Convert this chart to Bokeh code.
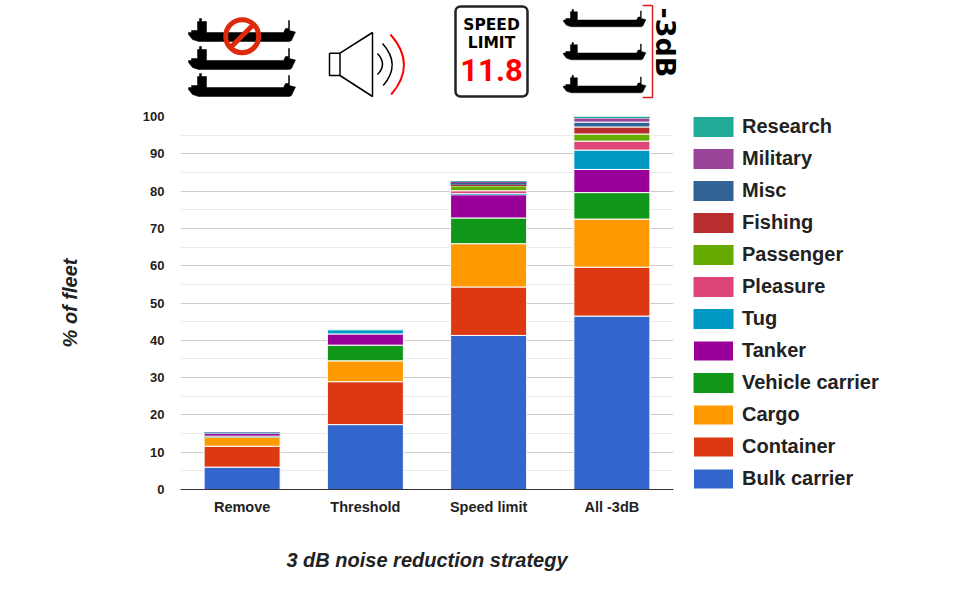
from bokeh.plotting import figure
from bokeh.layouts import column
from bokeh.models import (ColumnDataSource, FactorRange, Range1d, Legend, LegendItem,
                          SingleIntervalTicker, Label)
from bokeh.embed import file_html
from bokeh.resources import INLINE

strategies = ["Remove", "Threshold", "Speed limit", "All -3dB"]
bulk_carrier = [6.0, 17.4, 41.3, 46.5]
container = [5.6, 11.5, 13.0, 13.1]
cargo = [2.4, 5.6, 11.6, 12.9]
vehicle_carrier = [0.3, 4.2, 6.9, 7.1]
tanker = [0.7, 3.0, 6.2, 6.2]
tug = [0.05, 1.1, 0.3, 5.2]
pleasure = [0.0, 0.0, 0.8, 2.4]
passenger = [0.0, 0.0, 1.3, 1.9]
fishing = [0.05, 0.0, 0.3, 1.9]
misc = [0.2, 0.0, 0.5, 1.3]
military = [0.05, 0.0, 0.3, 1.1]
research = [0.05, 0.0, 0.2, 0.4]

series = ["Bulk carrier", "Container", "Cargo", "Vehicle carrier", "Tanker", "Tug",
          "Pleasure", "Passenger", "Fishing", "Misc", "Military", "Research"]
colors = ["#3366cc", "#dc3912", "#ff9900", "#109618", "#990099", "#0099c6",
          "#dd4477", "#66aa00", "#b82e2e", "#316395", "#994499", "#22aa99"]
FONT = "Liberation Sans"

data = dict(strategy=strategies)
for name, vals in zip(series, [bulk_carrier, container, cargo, vehicle_carrier, tanker, tug,
                               pleasure, passenger, fishing, misc, military, research]):
    data[name] = vals
    # thin slivers get no white separator, otherwise the stroke hides their colour
    data["sep_" + name] = [1.0 if v >= 0.6 else 0.0 for v in vals]

# ---------- icon strip above the chart (page pixels) ----------
ICON_H = 110
top = figure(width=946, height=ICON_H, x_range=Range1d(0, 946), y_range=Range1d(ICON_H, 0),
             output_backend="svg", toolbar_location=None, min_border=0,
             outline_line_color=None, frame_align=False)
top.axis.visible = False
top.grid.visible = False

ship_x = [0, 3, 3, 9, 9, 11, 11, 13, 13, 18, 18, 95, 97, 100, 100, 101, 101, 107, 103, 101, 10, 4, 0]
ship_y = [14, 14, 12, 12, 3, 3, 0, 0, 3, 3, 14, 14, 10, 10, 2, 2, 12, 13.5, 22, 23, 23, 21, 16]


def ship(x0, y0, sx=1.0, sy=1.0):
    top.patch([x0 + a * sx for a in ship_x], [y0 + b * sy for b in ship_y],
              fill_color="#000000", line_color="#000000", line_width=0.5)


for y0 in (18, 46, 73):
    ship(188, y0)
for y0 in (9, 42, 75):
    ship(563, y0, 0.77, 0.75)

# no-entry sign
top.circle(x=[241.7], y=[35.7], radius=16.5, fill_color=None, line_color="#dc2a0a", line_width=5)
top.line([231, 252], [46, 25], line_color="#dc2a0a", line_width=5)

# loudspeaker
top.line([329, 339.5, 339.5, 329, 329], [52.7, 52.7, 75, 75, 52.7], line_color="#000000", line_width=1.5)
top.line([339.5, 372, 372, 339.5], [52.7, 32, 96, 75], line_color="#000000", line_width=1.5)
top.quadratic(x0=[377, 382], y0=[53, 43], x1=[377, 382.7], y1=[74, 85], cx=[387, 401], cy=[64, 64],
              line_color="#000000", line_width=1.5)
top.quadratic(x0=[390], y0=[34], x1=[390.7], y1=[94], cx=[416.6], cy=[64],
              line_color="#ff0000", line_width=2)

# speed sign
top.quad(left=[455], right=[527], top=[6], bottom=[96], fill_color="#ffffff",
         line_color="#222222", line_width=2.5, border_radius=5)
for txt, yy, size, col, fam in [
    ("SPEED", 24, "15.5px", "#000000", "DejaVu Sans"),
    ("LIMIT", 42, "15.5px", "#000000", "DejaVu Sans"),
    ("11.8", 69, "31px", "#ff0000", "Roboto"),
]:
    top.add_layout(Label(x=491, y=yy, text=txt, text_align="center", text_baseline="middle",
                         text_font=fam, text_font_size=size, text_color=col, text_font_style="bold"))

# -3dB bracket
top.line([642, 652, 652, 642], [5, 5, 97, 97], line_color="#e02020", line_width=1.5)
top.add_layout(Label(x=665, y=42, text="-3dB", angle=-90, angle_units="deg", text_align="center",
                     text_baseline="middle", text_font="DejaVu Sans", text_font_size="27px",
                     text_font_style="bold", text_color="#000000"))

# ---------- stacked bar chart ----------
p = figure(x_range=FactorRange(factors=strategies, range_padding=0), y_range=Range1d(0, 100),
           frame_width=493, frame_height=373, min_border_left=180, min_border_right=273,
           min_border_top=6, min_border_bottom=109, frame_align=False,
           output_backend="svg", toolbar_location=None, outline_line_color=None)
rs = p.vbar_stack(series, x="strategy", width=0.617, source=ColumnDataSource(data), color=colors,
                  line_color="#ffffff", line_width=1, line_alpha=["sep_" + s for s in series])

p.yaxis.ticker = SingleIntervalTicker(interval=10, num_minor_ticks=2)
p.ygrid.grid_line_color = "#cccccc"
p.ygrid.minor_grid_line_color = "#ebebeb"
p.xgrid.grid_line_color = None

p.yaxis.axis_line_color = None
p.axis.major_tick_line_color = None
p.axis.minor_tick_line_color = None
p.axis.major_tick_out = 0
p.axis.minor_tick_out = 0
p.xaxis.axis_line_color = "#333333"
p.axis.major_label_text_font = FONT
p.axis.major_label_text_font_style = "bold"
p.axis.major_label_text_color = "#222222"
p.yaxis.major_label_text_font_size = "13px"
p.xaxis.major_label_text_font_size = "14.5px"
p.yaxis.major_label_standoff = 16
p.xaxis.major_label_standoff = 9

p.yaxis.axis_label = "% of fleet"
p.xaxis.axis_label = "3 dB noise reduction strategy"
p.axis.axis_label_text_font = FONT
p.axis.axis_label_text_font_style = "bold italic"
p.axis.axis_label_text_font_size = "20px"
p.axis.axis_label_text_color = "#222222"
p.yaxis.axis_label_standoff = 59
p.xaxis.axis_label_standoff = 31

items = [LegendItem(label=n, renderers=[r]) for n, r in zip(series, rs)][::-1]
legend = Legend(items=items, location=(15, -2), glyph_width=50, glyph_height=25, spacing=7,
                padding=0, margin=0, label_standoff=4, label_text_font=FONT, label_height=20,
                label_text_font_style="bold", label_text_font_size="20px",
                label_text_color="#222222", border_line_color=None, background_fill_alpha=0)
p.add_layout(legend, "right")

page = column(top, p, spacing=0)
open("out.html", "w").write(file_html(page, INLINE))
